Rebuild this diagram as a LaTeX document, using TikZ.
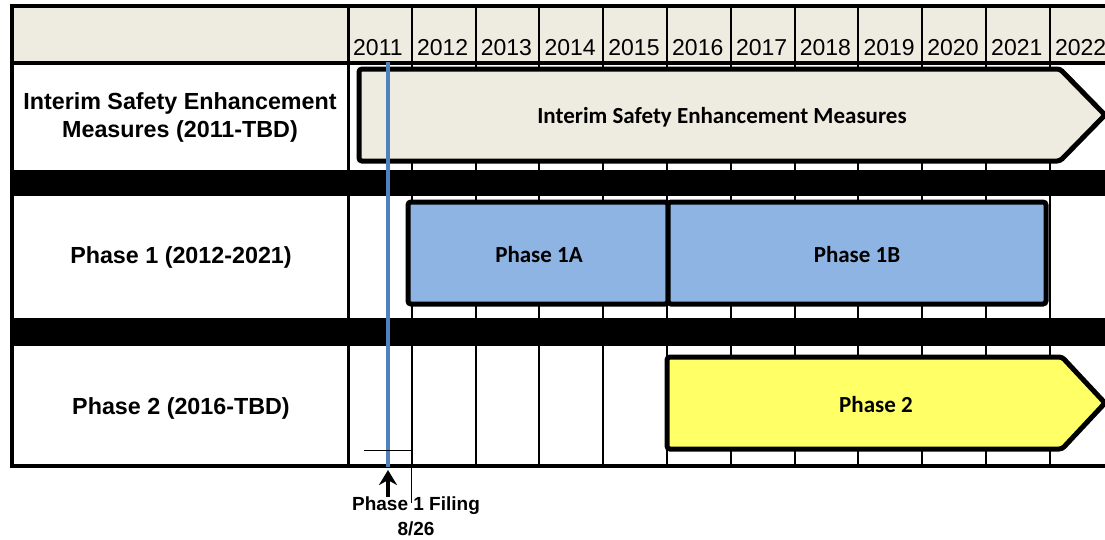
\documentclass[tikz,border=0pt]{standalone}
\usepackage{fontspec}
\setmainfont{Liberation Sans}
\newfontfamily\calib{Carlito}
\usetikzlibrary{arrows.meta}
\definecolor{hdrfill}{HTML}{EEECE1}
\definecolor{phblue}{HTML}{8EB4E3}
\definecolor{phyellow}{HTML}{FFFF66}
\definecolor{markblue}{HTML}{4F81BD}
\tikzset{
  gridline/.style={line width=2pt, black},
  frameline/.style={line width=4pt, black},
  bar/.style={line width=5pt, draw=black, rounded corners=3pt},
  rowlabel/.style={font=\fontsize{23.3}{28}\selectfont\bfseries, align=center},
  yearlabel/.style={font=\fontsize{23}{27}\selectfont, anchor=base west, inner sep=0pt},
  barlabel/.style={font=\calib\fontsize{23}{27}\selectfont\bfseries},
  filinglabel/.style={font=\fontsize{19}{25}\selectfont\bfseries, align=center, inner sep=0pt},
}
\begin{document}
\begin{tikzpicture}[x=1pt,y=-1pt]
\useasboundingbox (0,0) rectangle (1105,539);
% header fill
\fill[hdrfill] (12,6) rectangle (1105,63);
% vertical grid
\foreach \i in {1,...,11} \draw[gridline] ({348+63.8*\i},6) -- ({348+63.8*\i},466);
\draw[line width=3pt] (348,6) -- (348,466);
% black bands
\fill[black] (12,170) rectangle (1105,196);
\fill[black] (12,318) rectangle (1105,346);
% frame
\draw[frameline] (12,6) -- (1105,6);
\draw[frameline] (12,63) -- (1105,63);
\draw[frameline] (12,466) -- (1105,466);
\draw[frameline] (12,4) -- (12,468);
% years
\foreach \y [count=\i from 0] in {2011,2012,2013,2014,2015,2016,2017,2018,2019,2020,2021,2022}
  \node[yearlabel] (yr\y) at ({348+63.8*\i+5},55) {\y};
% row labels
\node[rowlabel] (lblinterim) at (180,117) {Interim Safety Enhancement\\Measures (2011-TBD)};
\node[rowlabel] (lblphase1) at (181,257) {Phase 1 (2012-2021)};
\node[rowlabel] (lblphase2) at (181,408) {Phase 2 (2016-TBD)};
% interim arrow
\draw[bar, fill=hdrfill] (359,69) -- (1060,69) -- (1105,115) -- (1060,161) -- (359,161) -- cycle;
\node[barlabel] (interim) at (722,117) {Interim Safety Enhancement Measures};
% phase 1
\draw[bar, fill=phblue] (408,202) rectangle (668,304);
\draw[bar, fill=phblue] (668,202) rectangle (1046,304);
\node[barlabel] (p1a) at (539,255) {Phase 1A};
\node[barlabel] (p1b) at (857,255) {Phase 1B};
% phase 2
\draw[bar, fill=phyellow] (667,357) -- (1062,357) -- (1105,403) -- (1062,449) -- (667,449) -- cycle;
\node[barlabel] (p2) at (876,405) {Phase 2};
% filing marker
\coordinate (mtop) at (388,62);
\coordinate (mbot) at (388,467);
\draw[markblue, line width=3.2pt] (mtop) -- (mbot);
\draw[line width=0.8pt] (364,450) -- (411,450) -- (411,503);
\node[filinglabel] (filing) at (416,516) {Phase 1 Filing\\8/26};
\coordinate (arrtail) at (388,497);
\coordinate (arrtip) at (388,470);
\draw[line width=4.5pt, -{Stealth[length=15pt,width=18pt]}] (arrtail) -- (arrtip);
\end{tikzpicture}
\end{document}
